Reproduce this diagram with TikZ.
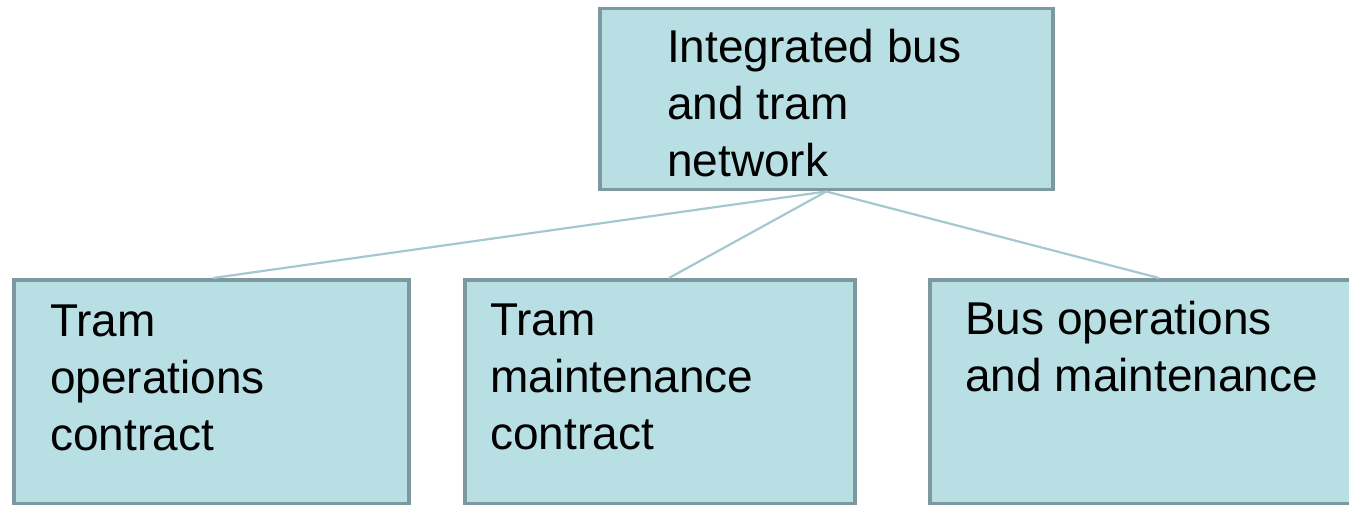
\documentclass[tikz,border=0pt]{standalone}
\usepackage{fontspec}
\setmainfont{Liberation Sans}
\usetikzlibrary{calc}
\definecolor{boxfill}{RGB}{184,223,228}
\definecolor{boxline}{RGB}{125,152,158}
\definecolor{linkline}{RGB}{165,200,208}
\begin{document}
\begin{tikzpicture}[x=1pt,y=-1pt,
  box/.style={draw=boxline, fill=boxfill, line width=3.5pt, rectangle, inner sep=0pt, anchor=north west},
  lbl/.style={anchor=base west, inner sep=0pt, align=left, font=\fontsize{46}{57}\selectfont},
  link/.style={draw=linkline, line width=2.2pt}]
\useasboundingbox (0,0) rectangle (1349,505);
\clip (0,0) rectangle (1349,505);
\node[box, minimum width=453pt, minimum height=181pt] (top) at (598,7) {};
\node[box, minimum width=395pt, minimum height=224pt] (b1) at (12,278) {};
\node[box, minimum width=390pt, minimum height=224pt] (b2) at (463,278) {};
\node[box, minimum width=472pt, minimum height=224pt] (b3) at (928,278) {};
\node[lbl] (ttop) at (667,177) {Integrated bus\\and tram\\network};
\node[lbl] (t1) at (50,450) {Tram\\operations\\contract};
\node[lbl] (t2) at (490,449) {Tram\\maintenance\\contract};
\node[lbl] (t3) at (965,391) {Bus operations\\and maintenance};
\draw[link] (top.south) -- ($(b1.north west)+(201,0)$);
\draw[link] (top.south) -- ($(b2.north west)+(206,0)$);
\draw[link] (top.south) -- ($(b3.north west)+(231,0)$);
\end{tikzpicture}
\end{document}
